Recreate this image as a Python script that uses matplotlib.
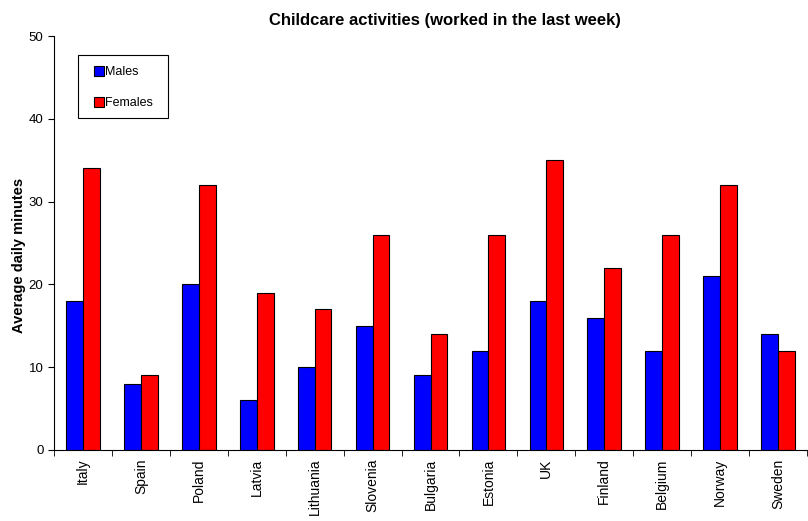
import numpy as np
import matplotlib.pyplot as plt
from matplotlib.patches import Patch, Rectangle

countries = ["Italy", "Spain", "Poland", "Latvia", "Lithuania", "Slovenia",
             "Bulgaria", "Estonia", "UK", "Finland", "Belgium", "Norway", "Sweden"]
males = [18, 8, 20, 6, 10, 15, 9, 12, 18, 16, 12, 21, 14]
females = [34, 9, 32, 19, 17, 26, 14, 26, 35, 22, 26, 32, 12]

plt.rcParams['font.family'] = ['Liberation Sans', 'DejaVu Sans']

fig = plt.figure(figsize=(8.08, 5.21), dpi=100)
ax = fig.add_axes([0.0668, 0.1363, 0.932, 0.7946])

x = np.arange(len(countries))
w = 0.29
ax.bar(x - w / 2, males, w, color='#0000ff', edgecolor='black', linewidth=0.8)
ax.bar(x + w / 2, females, w, color='#ff0000', edgecolor='black', linewidth=0.8)

ax.set_xlim(-0.5, len(countries) - 0.5)
ax.set_ylim(0, 50)
ax.set_yticks(range(0, 51, 10))
ax.set_xticks(x)
ax.set_xticklabels(countries, rotation=90, fontsize=10)
ax.set_xticks(np.arange(len(countries) + 1) - 0.5, minor=True)
ax.tick_params(axis='x', which='major', length=0, pad=6)
ax.tick_params(axis='x', which='minor', length=4, direction='out')
ax.tick_params(axis='y', labelsize=9.5, length=4, direction='out')

for s in ['top', 'right']:
    ax.spines[s].set_visible(False)

ax.set_ylabel('Average daily minutes', fontsize=10.5, fontweight='bold')
ax.yaxis.set_label_coords(-0.037, 0.47)
fig.text(445 / 808, 1 - 20 / 521, 'Childcare activities (worked in the last week)',
         fontsize=12, fontweight='bold', ha='center', va='center')

# legend box drawn separately so the padding can differ per side
ax.add_patch(Rectangle((0.0318, 0.802), 0.119, 0.152, transform=ax.transAxes,
                       facecolor='white', edgecolor='black', linewidth=0.8, zorder=5))
handles = [Patch(facecolor='#0000ff', edgecolor='black', linewidth=0.8),
           Patch(facecolor='#ff0000', edgecolor='black', linewidth=0.8)]
leg = ax.legend(handles, ['Males', 'Females'], loc='upper left',
                bbox_to_anchor=(0.053, 0.927), fontsize=9, frameon=False,
                handlelength=0.8, handleheight=0.8, handletextpad=0.1,
                labelspacing=1.5, borderpad=0, borderaxespad=0)
leg.set_zorder(6)

fig.savefig('out.png', dpi=100)
